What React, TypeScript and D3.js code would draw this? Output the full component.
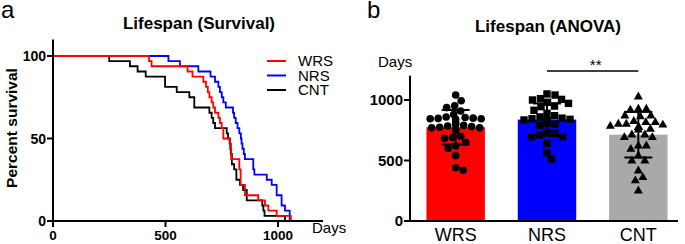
import React from 'react';
import * as d3 from 'd3';

// ---------- Data ----------
// Kaplan-Meier steps: [day, percent surviving after that day]
const survivalWRS: [number, number][] = [
  [0, 100], [427, 96.9], [438, 93.8], [598, 90.6], [620, 87.5], [668, 84.4], [680, 81.3],
  [688, 78.1], [695, 75], [705, 71.9], [712, 68.8], [720, 65.6], [735, 62.5], [742, 59.4],
  [750, 56.3], [757, 50], [787, 43.8], [792, 37.5], [828, 31.3], [834, 21.9], [853, 15.6],
  [912, 12.5], [942, 9.4], [957, 6.3], [994, 3.1], [1057, 0],
];
const survivalNRS: [number, number][] = [
  [0, 100], [513, 96.9], [564, 93.8], [646, 90.6], [700, 87.5], [720, 84.4], [735, 81.3],
  [742, 78.1], [750, 75], [757, 71.9], [768, 68.8], [800, 65.6], [805, 62.5], [812, 59.4],
  [820, 56.3], [828, 53.1], [835, 50], [838, 46.9], [842, 43.8], [848, 40.6], [853, 37.5],
  [890, 31.3], [895, 28.1], [950, 25], [972, 21.9], [994, 15.6], [1016, 9.4], [1031, 6.3],
  [1052, 0],
];
const survivalCNT: [number, number][] = [
  [0, 100], [250, 96.9], [342, 93.8], [376, 90.6], [412, 87.5], [498, 81.3], [550, 78.1],
  [606, 75], [628, 68.8], [695, 65.6], [705, 62.5], [712, 59.4], [720, 56.3], [772, 53.1],
  [778, 50], [785, 46.9], [790, 40.6], [795, 34.4], [805, 31.3], [815, 25], [831, 21.9],
  [845, 18.8], [861, 12.5], [930, 9.4], [935, 6.3], [940, 3.1], [1031, 0],
];

const groups = ['WRS', 'NRS', 'CNT'];
const lifespanWRS = [
  1041, 994, 953, 937, 909, 880, 860, 855, 850, 848, 845, 845, 840, 815, 800, 790,
  785, 780, 775, 770, 770, 760, 750, 700, 690, 683, 650, 620, 600, 540, 440, 420,
];
const lifespanNRS = [
  1050, 1041, 1011, 1005, 1000, 981, 972, 950, 945, 915, 890, 870, 860, 850, 845, 840,
  835, 830, 825, 820, 815, 810, 800, 790, 730, 722, 711, 697, 697, 640, 565, 512,
];
const lifespanCNT = [
  1033, 931, 931, 923, 876, 876, 868, 830, 821, 821, 807, 807, 800, 790, 780, 780,
  766, 760, 719, 719, 697, 697, 628, 628, 600, 545, 504, 504, 421, 366, 339, 256,
];

const survXTicks = [0, 500, 1000];
const survYTicks = [0, 50, 100];
const barYTicks = [0, 500, 1000];
const legendLabels = ['WRS', 'NRS', 'CNT'];

// ---------- Styles ----------
const FONT = '"Liberation Sans", Arial, Helvetica, sans-serif';
const lineColors = ['#ff0000', '#0000ff', '#000000'];
const barColors = ['#ff0000', '#0000ff', '#a9a9a9'];

function mean(a: number[]) { return d3.mean(a) as number; }
function sd(a: number[]) { return d3.deviation(a) as number; }

function swarm(values: number[], y: (v: number) => number, cx: number, diam: number, maxOff: number) {
  const order = values.map((v, i) => i).sort((a, b) => values[b] - values[a]);
  const placed: { x: number; y: number }[] = [];
  const out: { x: number; y: number }[] = new Array(values.length);
  for (const i of order) {
    const py = y(values[i]);
    let best = 0;
    let found = false;
    for (let k = 0; k <= maxOff * 4; k++) {
      const off = (k % 2 === 1 ? 1 : -1) * Math.ceil(k / 2) * 0.5;
      const px = cx + off;
      const ok = placed.every(p => (p.x - px) ** 2 + (p.y - py) ** 2 >= diam * diam);
      if (ok) { best = off; found = true; break; }
    }
    if (!found) best = 0;
    const pt = { x: cx + best, y: py };
    placed.push(pt);
    out[i] = pt;
  }
  return out;
}

export default function App() {
  // ---- Panel a: survival ----
  const xS = d3.scaleLinear().domain([0, 1200]).range([53, 323]);
  const yS = d3.scaleLinear().domain([0, 110]).range([221, 39.5]);
  const line = d3.line<[number, number]>()
    .x(d => xS(d[0]))
    .y(d => yS(d[1]))
    .curve(d3.curveStepAfter);
  const curves = [survivalWRS, survivalNRS, survivalCNT];

  // ---- Panel b: bars ----
  const yB = d3.scaleLinear().domain([0, 1200]).range([221, 75.8]);
  const xB = d3.scaleBand<string>().domain(groups).range([410, 684]).paddingInner(0.36).paddingOuter(0.18);
  const data = [lifespanWRS, lifespanNRS, lifespanCNT];
  const bw = xB.bandwidth();

  const markers = data.map((vals, gi) => {
    const cx = (xB(groups[gi]) as number) + bw / 2;
    return swarm(vals, yB, cx, 7.8, bw / 2);
  });

  const drawMarker = (gi: number, x: number, y: number, key: string) => {
    if (gi === 0) return <circle key={key} cx={x} cy={y} r={3.8} fill="#000" />;
    if (gi === 1) return <rect key={key} x={x - 3.7} y={y - 3.7} width={7.4} height={7.4} fill="#000" />;
    const s = 4.5;
    return <path key={key} d={`M${x},${y - s}L${x + s},${y + s * 0.75}L${x - s},${y + s * 0.75}Z`} fill="#000" />;
  };

  const sigX1 = (xB('NRS') as number) + bw / 2;
  const sigX2 = (xB('CNT') as number) + bw / 2;

  return (
    <svg width={685} height={244} style={{ position: 'absolute', left: 0, top: 0, background: '#fff' }} fontFamily={FONT}>
      <rect width={685} height={244} fill="#fff" />
      {/* Panel a */}
      <text x={1} y={18} fontSize={24}>a</text>
      <text x={199} y={28.5} fontSize={17} fontWeight="bold" textAnchor="middle">Lifespan (Survival)</text>
      <text transform={`translate(17,128) rotate(-90)`} fontSize={15.5} fontWeight="bold" textAnchor="middle">Percent survival</text>

      {[2, 1, 0].map(i => (
        <path key={'c' + i} d={line(curves[i]) as string} fill="none" stroke={lineColors[i]} strokeWidth={1.8} />
      ))}

      <line x1={xS(0)} x2={xS(1200)} y1={221} y2={221} stroke="#000" strokeWidth={2} />
      <line x1={53} x2={53} y1={yS(110)} y2={222} stroke="#000" strokeWidth={2} />
      {survXTicks.map(t => (
        <g key={'sx' + t}>
          <line x1={xS(t)} x2={xS(t)} y1={221} y2={227} stroke="#000" strokeWidth={2} />
          <text x={xS(t)} y={240} fontSize={13.5} fontWeight="bold" textAnchor="middle">{t}</text>
        </g>
      ))}
      {survYTicks.map(t => (
        <g key={'sy' + t}>
          <line x1={47} x2={53} y1={yS(t)} y2={yS(t)} stroke="#000" strokeWidth={2} />
          <text x={46} y={yS(t) + 5} fontSize={14} fontWeight="bold" textAnchor="end">{t}</text>
        </g>
      ))}
      <text x={312} y={233} fontSize={15}>Days</text>

      {legendLabels.map((l, i) => (
        <g key={'lg' + i}>
          <line x1={267} x2={286} y1={61 + i * 14.5} y2={61 + i * 14.5} stroke={lineColors[i]} strokeWidth={2} />
          <text x={298} y={66 + i * 14.5} fontSize={15}>{l}</text>
        </g>
      ))}

      {/* Panel b */}
      <text x={367} y={17.5} fontSize={24}>b</text>
      <text x={548} y={31.5} fontSize={17} fontWeight="bold" textAnchor="middle">Lifespan (ANOVA)</text>
      <text x={378} y={67} fontSize={15}>Days</text>

      {data.map((vals, gi) => (
        <rect key={'b' + gi} x={xB(groups[gi])} y={yB(mean(vals))} width={bw}
          height={yB(0) - yB(mean(vals))} fill={barColors[gi]} />
      ))}
      {markers.map((pts, gi) => pts.map((p, j) => drawMarker(gi, p.x, p.y, `m${gi}-${j}`)))}
      {data.map((vals, gi) => {
        const cx = (xB(groups[gi]) as number) + bw / 2;
        const m = mean(vals), s = sd(vals);
        const cap = 14;
        return (
          <g key={'e' + gi} stroke="#000" strokeWidth={2}>
            <line x1={cx} x2={cx} y1={yB(m + s)} y2={yB(m - s)} />
            <line x1={cx - cap} x2={cx + cap} y1={yB(m + s)} y2={yB(m + s)} />
            <line x1={cx - cap} x2={cx + cap} y1={yB(m - s)} y2={yB(m - s)} />
          </g>
        );
      })}

      <line x1={410} x2={678} y1={221} y2={221} stroke="#000" strokeWidth={2} />
      <line x1={410} x2={410} y1={yB(1200)} y2={222} stroke="#000" strokeWidth={2} />
      {barYTicks.map(t => (
        <g key={'by' + t}>
          <line x1={404} x2={410} y1={yB(t)} y2={yB(t)} stroke="#000" strokeWidth={2} />
          <text x={403} y={yB(t) + 5} fontSize={15} fontWeight="bold" textAnchor="end">{t}</text>
        </g>
      ))}
      {groups.map(g => (
        <text key={'bx' + g} x={(xB(g) as number) + bw / 2} y={241} fontSize={18} textAnchor="middle">{g}</text>
      ))}

      <line x1={sigX1} x2={sigX2} y1={71} y2={71} stroke="#000" strokeWidth={1.5} />
      <text x={(sigX1 + sigX2) / 2 + 3} y={70} fontSize={15} textAnchor="middle">**</text>
    </svg>
  );
}
